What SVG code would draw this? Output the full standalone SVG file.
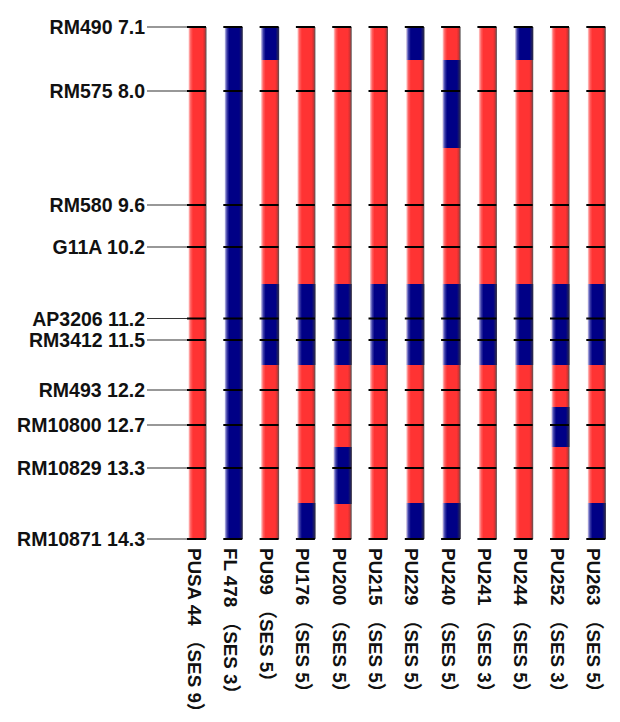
<svg xmlns="http://www.w3.org/2000/svg" width="620" height="722" viewBox="0 0 620 722">
<style>
.lbl{font-family:"Liberation Sans",Arial,sans-serif;font-weight:bold;font-size:19.5px;fill:#111;text-anchor:end}
.bl{font-family:"Liberation Sans","Noto Sans CJK SC",sans-serif;font-weight:bold;font-size:18.8px;fill:#111}
.lead{stroke:#333;stroke-width:1.2}
.tick{stroke:#000;stroke-width:2.2}
.r{fill:url(#gr)}
.b{fill:url(#gb)}
</style>
<defs>
<linearGradient id="gr" x1="0" y1="0" x2="1" y2="0">
<stop offset="0" stop-color="#ffd0d0"/>
<stop offset="0.12" stop-color="#ff6060"/>
<stop offset="0.25" stop-color="#ff3333"/>
<stop offset="0.78" stop-color="#ff3333"/>
<stop offset="0.88" stop-color="#d83232"/>
<stop offset="1" stop-color="#555"/>
</linearGradient>
<linearGradient id="gb" x1="0" y1="0" x2="1" y2="0">
<stop offset="0" stop-color="#c8c8ee"/>
<stop offset="0.12" stop-color="#4040a8"/>
<stop offset="0.25" stop-color="#000086"/>
<stop offset="0.8" stop-color="#000086"/>
<stop offset="1" stop-color="#303048"/>
</linearGradient>
</defs>

<g id="markers">
<text class="lbl" x="145" y="34">RM490 7.1</text>
<text class="lbl" x="145" y="98">RM575 8.0</text>
<text class="lbl" x="145" y="212">RM580 9.6</text>
<text class="lbl" x="145" y="254">G11A 10.2</text>
<text class="lbl" x="145" y="325.5">AP3206 11.2</text>
<text class="lbl" x="145" y="347">RM3412 11.5</text>
<text class="lbl" x="145" y="397">RM493 12.2</text>
<text class="lbl" x="145" y="432">RM10800 12.7</text>
<text class="lbl" x="145" y="475">RM10829 13.3</text>
<text class="lbl" x="145" y="546">RM10871 14.3</text>
</g>

<g id="bars">
<g id="bar-pusa44">
<rect class="r" x="188.5" y="27" width="18" height="512"/>
</g>
<g id="bar-fl478">
<rect class="b" x="224.8" y="27" width="18" height="512"/>
</g>
<g id="bar-pu99">
<rect class="r" x="261.1" y="27" width="18" height="512"/>
<rect class="b" x="261.1" y="27" width="18" height="33"/>
<rect class="b" x="261.1" y="284" width="18" height="81"/>
</g>
<g id="bar-pu176">
<rect class="r" x="297.4" y="27" width="18" height="512"/>
<rect class="b" x="297.4" y="284" width="18" height="81"/>
<rect class="b" x="297.4" y="503" width="18" height="36"/>
</g>
<g id="bar-pu200">
<rect class="r" x="333.7" y="27" width="18" height="512"/>
<rect class="b" x="333.7" y="284" width="18" height="81"/>
<rect class="b" x="333.7" y="447" width="18" height="57"/>
</g>
<g id="bar-pu215">
<rect class="r" x="370" y="27" width="18" height="512"/>
<rect class="b" x="370" y="284" width="18" height="81"/>
</g>
<g id="bar-pu229">
<rect class="r" x="406.3" y="27" width="18" height="512"/>
<rect class="b" x="406.3" y="27" width="18" height="33"/>
<rect class="b" x="406.3" y="284" width="18" height="81"/>
<rect class="b" x="406.3" y="503" width="18" height="36"/>
</g>
<g id="bar-pu240">
<rect class="r" x="442.6" y="27" width="18" height="512"/>
<rect class="b" x="442.6" y="60" width="18" height="88"/>
<rect class="b" x="442.6" y="284" width="18" height="81"/>
<rect class="b" x="442.6" y="503" width="18" height="36"/>
</g>
<g id="bar-pu241">
<rect class="r" x="478.9" y="27" width="18" height="512"/>
<rect class="b" x="478.9" y="284" width="18" height="81"/>
</g>
<g id="bar-pu244">
<rect class="r" x="515.2" y="27" width="18" height="512"/>
<rect class="b" x="515.2" y="27" width="18" height="33"/>
<rect class="b" x="515.2" y="284" width="18" height="81"/>
</g>
<g id="bar-pu252">
<rect class="r" x="551.5" y="27" width="18" height="512"/>
<rect class="b" x="551.5" y="284" width="18" height="81"/>
<rect class="b" x="551.5" y="407" width="18" height="40"/>
</g>
<g id="bar-pu263">
<rect class="r" x="587.8" y="27" width="18" height="512"/>
<rect class="b" x="587.8" y="284" width="18" height="81"/>
<rect class="b" x="587.8" y="503" width="18" height="36"/>
</g>
</g>

<g id="connectors">
<line class="lead" x1="147" y1="27" x2="188" y2="27"/>
<line class="lead" x1="147" y1="91" x2="188" y2="91"/>
<line class="lead" x1="147" y1="205" x2="188" y2="205"/>
<line class="lead" x1="147" y1="247" x2="188" y2="247"/>
<line class="lead" x1="147" y1="318.5" x2="188" y2="318.5"/>
<line class="lead" x1="147" y1="340" x2="188" y2="340"/>
<line class="lead" x1="147" y1="390" x2="188" y2="390"/>
<line class="lead" x1="147" y1="425" x2="188" y2="425"/>
<line class="lead" x1="147" y1="468" x2="188" y2="468"/>
<line class="lead" x1="147" y1="539" x2="188" y2="539"/>
<path class="tick" d="M187 27h19M223.3 27h19M259.6 27h19M295.9 27h19M332.2 27h19M368.5 27h19M404.8 27h19M441.1 27h19M477.4 27h19M513.7 27h19M550 27h19M586.3 27h19
M187 91h19M223.3 91h19M259.6 91h19M295.9 91h19M332.2 91h19M368.5 91h19M404.8 91h19M441.1 91h19M477.4 91h19M513.7 91h19M550 91h19M586.3 91h19
M187 205h19M223.3 205h19M259.6 205h19M295.9 205h19M332.2 205h19M368.5 205h19M404.8 205h19M441.1 205h19M477.4 205h19M513.7 205h19M550 205h19M586.3 205h19
M187 247h19M223.3 247h19M259.6 247h19M295.9 247h19M332.2 247h19M368.5 247h19M404.8 247h19M441.1 247h19M477.4 247h19M513.7 247h19M550 247h19M586.3 247h19
M187 318.5h19M223.3 318.5h19M259.6 318.5h19M295.9 318.5h19M332.2 318.5h19M368.5 318.5h19M404.8 318.5h19M441.1 318.5h19M477.4 318.5h19M513.7 318.5h19M550 318.5h19M586.3 318.5h19
M187 340h19M223.3 340h19M259.6 340h19M295.9 340h19M332.2 340h19M368.5 340h19M404.8 340h19M441.1 340h19M477.4 340h19M513.7 340h19M550 340h19M586.3 340h19
M187 390h19M223.3 390h19M259.6 390h19M295.9 390h19M332.2 390h19M368.5 390h19M404.8 390h19M441.1 390h19M477.4 390h19M513.7 390h19M550 390h19M586.3 390h19
M187 425h19M223.3 425h19M259.6 425h19M295.9 425h19M332.2 425h19M368.5 425h19M404.8 425h19M441.1 425h19M477.4 425h19M513.7 425h19M550 425h19M586.3 425h19
M187 468h19M223.3 468h19M259.6 468h19M295.9 468h19M332.2 468h19M368.5 468h19M404.8 468h19M441.1 468h19M477.4 468h19M513.7 468h19M550 468h19M586.3 468h19
M187 539h19M223.3 539h19M259.6 539h19M295.9 539h19M332.2 539h19M368.5 539h19M404.8 539h19M441.1 539h19M477.4 539h19M513.7 539h19M550 539h19M586.3 539h19"/>
</g>

<g id="lines">
<text class="bl" transform="translate(187.5,548) rotate(90)">PUSA 44 （SES 9）</text>
<text class="bl" transform="translate(223.8,548) rotate(90)">FL 478 （SES 3）</text>
<text class="bl" transform="translate(260.1,548) rotate(90)">PU99 （SES 5）</text>
<text class="bl" transform="translate(296.4,548) rotate(90)">PU176 （SES 5）</text>
<text class="bl" transform="translate(332.7,548) rotate(90)">PU200 （SES 5）</text>
<text class="bl" transform="translate(369,548) rotate(90)">PU215 （SES 5）</text>
<text class="bl" transform="translate(405.3,548) rotate(90)">PU229 （SES 5）</text>
<text class="bl" transform="translate(441.6,548) rotate(90)">PU240 （SES 5）</text>
<text class="bl" transform="translate(477.9,548) rotate(90)">PU241 （SES 3）</text>
<text class="bl" transform="translate(514.2,548) rotate(90)">PU244 （SES 5）</text>
<text class="bl" transform="translate(550.5,548) rotate(90)">PU252 （SES 3）</text>
<text class="bl" transform="translate(586.8,548) rotate(90)">PU263 （SES 5）</text>
</g>
</svg>
